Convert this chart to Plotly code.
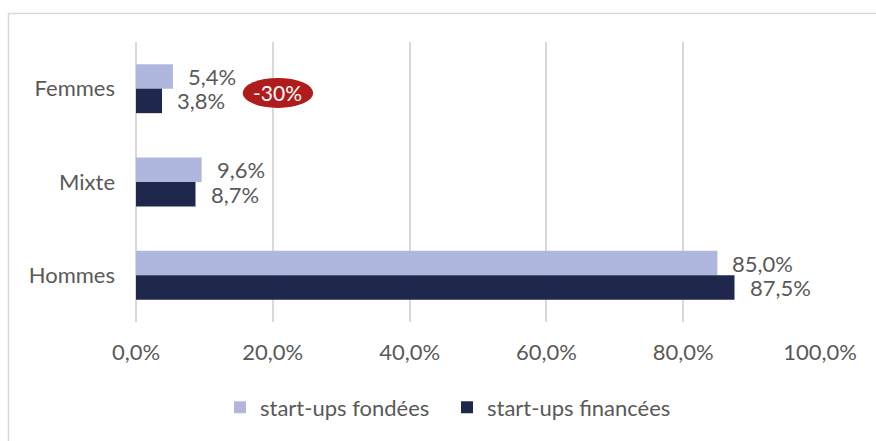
import plotly.graph_objects as go

categories = ["Femmes", "Mixte", "Hommes"]
fondees = [5.4, 9.6, 85.0]
financees = [3.8, 8.7, 87.5]
series_names = ["start-ups fondées", "start-ups financées"]
x_ticks = [0, 20, 40, 60, 80, 100]
x_tick_labels = ["0,0%", "20,0%", "40,0%", "60,0%", "80,0%", "100,0%"]
badge_text = "-30%"

LIGHT = "#b0b7de"
DARK = "#1f274d"
TEXT = "#595959"
GRID = "#d9d9d9"
FONT = "Lato"
FS = 22

W, H = 876, 441
ML, MR, MT, MB = 136, 56, 42, 119
PW = W - ML - MR


def fmt(v):
    return f"{v:.1f}".replace(".", ",") + "%"


fig = go.Figure()
fig.add_trace(go.Bar(name=series_names[0], y=categories, x=fondees, orientation="h",
                     marker=dict(color=LIGHT, line=dict(width=0))))
fig.add_trace(go.Bar(name=series_names[1], y=categories, x=financees, orientation="h",
                     marker=dict(color=DARK, line=dict(width=0))))

annotations = []
for vals, off in ((fondees, -0.13), (financees, 0.13)):
    for cat_i, v in enumerate(vals):
        annotations.append(dict(
            x=v, y=cat_i + off, xref="x", yref="y", text=fmt(v),
            showarrow=False, xanchor="left", yanchor="middle", xshift=13,
            font=dict(family=FONT, size=FS, color=TEXT)))

# red badge next to the Femmes group
annotations.append(dict(x=20.75, y=0.046, xref="x", yref="y", text=badge_text,
                        showarrow=False, xanchor="center", yanchor="middle",
                        font=dict(family=FONT, size=21, color="white")))

shapes = [
    dict(type="circle", xref="x", yref="y", x0=15.6, x1=25.9, y0=-0.115, y1=0.207,
         fillcolor="#b01c1c", line=dict(width=0), layer="above"),
    # chart frame
    dict(type="rect", xref="paper", yref="paper",
         x0=(8.5 - ML) / PW, x1=1.5,
         y0=-0.6, y1=1 + (MT - 13.5) / (H - MT - MB),
         line=dict(color=GRID, width=1.5), fillcolor="rgba(0,0,0,0)", layer="below"),
]

fig.update_layout(
    width=W, height=H,
    margin=dict(l=ML, r=MR, t=MT, b=MB),
    paper_bgcolor="white", plot_bgcolor="white",
    barmode="group", bargap=0.475, bargroupgap=0,
    font=dict(family=FONT, size=FS, color=TEXT),
    xaxis=dict(range=[0, 100], tickvals=x_ticks, ticktext=x_tick_labels,
               showgrid=True, gridcolor=GRID,
               gridwidth=1.5, zeroline=True, zerolinecolor=GRID, zerolinewidth=1.5,
               showline=False, ticks="", ticklabelstandoff=15,
               tickfont=dict(size=FS, color=TEXT), fixedrange=True),
    yaxis=dict(categoryorder="array", categoryarray=categories, autorange="reversed",
               showgrid=False, zeroline=False, showline=False, ticks="",
               ticklabelstandoff=20, tickfont=dict(size=FS, color=TEXT)),
    legend=dict(orientation="h", x=(220 - ML) / PW, xanchor="left", y=-0.23, yanchor="top",
                font=dict(size=FS, color=TEXT), traceorder="normal",
                itemwidth=30, entrywidth=182, entrywidthmode="pixels"),
    annotations=annotations, shapes=shapes, showlegend=True,
)

fig.write_html("out.html")
